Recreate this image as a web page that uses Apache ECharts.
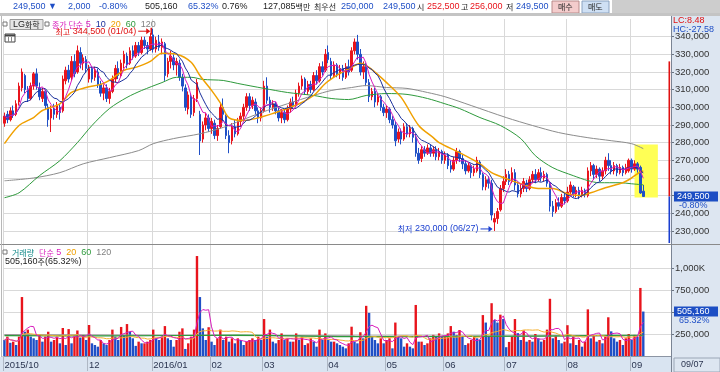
<!DOCTYPE html>
<html>
<head>
<meta charset="utf-8">
<script src="https://cdn.jsdelivr.net/npm/echarts@6/dist/echarts.min.js"></script>
<style>
html,body{margin:0;padding:0;background:#fff;}
#chart{width:720px;height:372px;}
</style>
</head>
<body>
<div id="chart"></div>
<script>
// ================= DATA =================
const monthStarts = [0, 29, 51, 71, 89, 111, 131, 151, 172, 193, 215];
const monthLabels = ['2015/10', '12', '2016/01', '02', '03', '04', '05', '06', '07', '08', '09'];
const lastDate = '09/07';

// daily candles [open, close, low, high] in thousand KRW
const candles = [
[291,295,289,297],[296,293,291,298],[293,298,292,300],[298,296,294,301],[296,302,295,304],
[303,312,301,314],[311,320,309,322],[318,310,308,319],[310,305,303,312],[305,312,304,314],
[312,319,310,320],[319,312,310,322],[311,306,304,314],[305,309,303,311],[309,301,299,310],
[300,293,289,302],[294,299,286,301],[299,296,293,302],[296,301,294,303],[300,297,293,302],
[298,316,297,318],[315,321,313,323],[321,316,314,324],[317,326,315,329],[326,319,317,330],
[320,332,319,335],[331,325,322,334],[325,328,321,330],[327,322,320,329],[316,322,314,324],
[322,316,314,323],[317,321,315,323],[320,313,311,322],[313,308,306,315],[308,311,304,313],
[311,305,303,313],[305,309,302,311],[309,316,308,318],[316,322,314,324],[322,318,316,326],
[318,325,317,327],[325,330,322,332],[329,324,322,331],[325,332,324,334],[332,329,327,335],
[329,335,328,337],[335,331,329,337],[331,338,330,340],[338,335,333,340],[335,333,330,337],
[333,340,332,342],[341,333,331,344.5],[333,338,331,340],[337,334,332,341],[334,337,330,339],
[336,318,315,337],[319,326,317,328],[326,329,322,332],[328,324,321,330],[324,326,318,328],
[325,317,315,327],[317,312,309,319],[311,300,298,313],[299,307,296,309],[306,296,294,308],
[297,305,295,307],[305,314,303,316],[296,281,273,298],[282,290,280,292],[290,294,287,297],
[294,288,286,296],[288,292,285,294],[291,284,282,293],[284,288,281,290],[289,300,288,302],
[300,296,292,305],[295,284,282,296],[284,280,274,287],[281,289,279,291],[289,285,283,293],
[285,292,284,294],[292,295,289,297],[295,300,293,302],[300,306,298,308],[306,301,298,308],
[301,304,299,306],[303,298,296,305],[298,294,291,300],[294,298,292,300],[298,312,297,315],
[312,304,302,317],[304,300,297,306],[300,302,298,304],[302,298,296,303],[298,294,292,300],
[294,297,291,299],[297,293,291,299],[293,299,292,301],[299,303,297,305],[303,301,299,306],
[301,308,300,310],[308,312,306,314],[312,316,310,318],[316,309,307,317],[309,313,307,315],
[313,310,308,315],[310,318,309,320],[318,315,313,321],[315,323,314,325],[323,320,318,326],
[321,330,320,333],[331,327,325,335],[326,318,316,328],[318,324,317,326],[324,319,317,325],
[319,322,316,324],[322,317,315,324],[317,323,316,325],[323,320,318,327],[321,332,320,334],
[332,337,330,339],[337,330,327,341],[330,320,318,333],[320,323,316,326],[323,314,312,325],
[314,306,303,316],[306,309,304,311],[309,303,300,311],[303,306,301,308],[306,300,298,307],
[300,297,295,302],[297,299,294,301],[299,293,291,300],[293,290,288,295],[290,281,278,292],
[282,286,280,288],[286,282,279,288],[282,289,281,291],[289,285,283,291],[285,288,283,290],
[288,283,280,289],[283,274,272,285],[274,270,268,277],[271,276,269,278],[276,274,272,278],
[274,277,273,279],[277,274,272,279],[274,276,272,278],[276,272,270,278],[272,275,270,277],
[275,270,268,276],[270,273,268,275],[273,267,265,274],[267,265,263,270],[265,270,264,272],
[270,275,268,277],[275,271,269,276],[271,268,265,273],[268,264,262,270],[264,267,263,269],
[267,263,260,268],[263,265,261,267],[264,270,263,272],[269,262,260,270],[262,255,253,263],
[255,259,253,261],[259,257,254,261],[257,239,236,259],[235,237,230,240],[237,241,234,243],
[242,254,241,256],[254,258,252,261],[258,262,256,265],[262,258,256,264],[258,263,257,266],
[263,256,253,265],[256,251,249,258],[251,254,249,257],[254,258,252,260],[257,254,252,259],
[254,259,253,261],[259,262,257,264],[262,259,257,265],[259,263,258,265],[263,260,258,266],
[260,262,258,264],[262,257,255,263],[257,244,241,258],[244,241,238,247],[241,246,240,248],
[246,244,242,249],[244,249,243,251],[249,247,245,252],[247,252,246,255],[252,256,250,258],
[255,251,249,256],[251,253,249,255],[253,250,248,255],[250,253,249,255],[253,251,249,254],
[250,264,249,266],[264,267,261,269],[267,262,259,268],[262,265,260,267],[265,261,258,266],
[261,264,259,266],[264,270,262,272],[270,267,264,274],[267,264,262,270],[264,267,262,269],
[267,263,261,268],[263,266,262,268],[266,263,261,267],[263,266,262,268],[264,270,263,271],
[270,265,263,271],[265,268,264,270],[268,265,263,269],[266,251.5,251,267],[252.5,249.5,249.5,256]
];

// daily volume in thousand shares
const volumes = [
182,220,150,163,125,220,670,276,300,220,
201,182,239,163,220,276,163,182,220,144,
318,125,306,144,220,290,210,239,182,352,
144,125,106,182,144,125,182,300,220,182,
330,239,363,276,201,115,163,144,144,163,
182,300,201,182,220,340,201,182,106,182,
276,314,80,144,220,300,1136,670,314,182,
327,163,125,201,300,182,220,163,201,144,
201,182,125,163,182,201,182,220,182,420,
220,300,163,144,182,257,182,201,163,163,
257,182,220,125,144,201,163,106,300,182,
257,182,163,163,144,125,106,87,144,333,
163,144,270,201,570,490,220,182,144,201,
144,182,201,87,380,220,201,106,144,106,
87,580,163,163,125,144,201,240,220,257,
220,220,257,340,276,239,295,220,125,144,
182,220,201,182,465,380,220,600,410,380,
470,420,100,160,220,420,260,182,290,163,
182,163,250,201,163,182,300,650,201,230,
182,144,163,350,144,220,125,182,106,163,
530,201,230,163,182,144,220,440,280,201,
163,182,125,201,250,182,240,220,773.36,505.16
];

// longer moving averages: [day index, value]
const ma20Points = [[0,279.4],[5,289.7],[10,294.2],[13,298.2],[19,302],[23,308.4],[28,311.2],[33,313],[36,315.2],[41,321],[45,322.6],[50,326],[54,330.6],[59,330],[64,325.5],[67,318],[71,309.6],[74,302.5],[77,294],[82,292.5],[86,293.6],[92,296.5],[97,299.3],[101,302],[106,306.7],[110,313.5],[115,319.2],[119,322.6],[122,325],[125,322.6],[131,314],[136,305.6],[142,289.7],[147,282.8],[149,280],[156,274.3],[163,268],[167,263],[172,259.6],[177,256.7],[183,254],[188,254],[193,251],[197,250],[201,251.6],[206,254.5],[212,257.3],[215,260],[218,263.5],[219,264]];
const ma60Points = [[0,248.8],[5,251.6],[12,261.3],[19,269.8],[25,280],[30,289.7],[36,299.3],[42,305.6],[47,309.5],[54,314],[59,317],[64,317],[68,315.8],[75,315.2],[80,313.5],[89,310.7],[97,308.4],[106,306.7],[112,305],[118,304.4],[124,306.7],[131,307.8],[138,307.3],[145,305],[151,302],[156,299.3],[163,294.2],[170,289.7],[177,282.3],[182,272.6],[188,265.8],[195,261.3],[200,258.5],[204,257.3],[211,257.3],[215,256.7],[219,256.1]];
const ma120Points = [[0,258.4],[10,260],[19,263],[27,268],[36,271.5],[46,275.5],[51,279.4],[58,282.3],[67,285],[75,288.6],[81,292.5],[88,297],[97,302],[106,306.7],[112,309.5],[119,311.2],[124,312.3],[131,311.2],[138,310.7],[145,308.4],[151,306],[160,301],[172,294.2],[181,289.7],[190,285.7],[200,282.8],[208,281.1],[215,279.4],[219,276.6]];
const volMa60Points = [[0,232],[40,228],[80,238],[120,220],[160,222],[200,232],[219,236]];
const volMa120Points = [[0,242],[60,236],[120,228],[180,226],[219,230]];

const highMark = { day: 51, value: 344.5, date: '01/04' };
const lowMark = { day: 168, value: 230, date: '06/27' };
const highlight = { fromDay: 216, toDay: 224, low: 249, high: 279 };
const rangeTop = 326;
const quote = { last: 249500, change: -2000, pct: -0.80, volume: 505160, volRatio: 65.32, turnover: 0.76,
  amount: '127,085', amountUnit: '백만', ask: 250000, bid: 249500, open: 252500, high: 256000, low: 249500, lc: 8.48, hc: -27.58 };

// ================= CHART =================
const RED = '#e8141c', BLUE = '#1f4fc6', DARK = '#222222';
const FONT = "'Liberation Sans','Noto Sans CJK KR',sans-serif";
const F9 = '9px ' + FONT, K8 = "8px 'Noto Sans CJK KR',sans-serif";
const fmt = n => Math.round(n).toLocaleString('en-US');

const N = candles.length, PAD = 9, TOTAL = N + PAD;
const cats = Array.from({ length: TOTAL }, (_, i) => String(i));
const closes = candles.map(c => c[1]);
function sma(arr, n) {
  return arr.map((_, i) => {
    const s = Math.max(0, i - n + 1); let t = 0;
    for (let k = s; k <= i; k++) t += arr[k];
    return +(t / (i - s + 1)).toFixed(2);
  });
}
function sparse(pts) { const a = new Array(N).fill(null); pts.forEach(p => { a[p[0]] = p[1]; }); return a; }
const isMonth = i => monthStarts.indexOf(i) >= 0;
const volColors = volumes.map((v, i) => (i > 0 && v >= volumes[i - 1]) ? RED : BLUE);

function line(data, color, width, xi, yi, smooth) {
  return { type: 'line', xAxisIndex: xi, yAxisIndex: yi, data: data, symbol: 'none', connectNulls: true,
    smooth: smooth || false, lineStyle: { color: color, width: width }, z: 3, silent: true };
}

const chart = echarts.init(document.getElementById('chart'), null, { renderer: 'canvas' });
chart.setOption({
  animation: false,
  backgroundColor: '#ffffff',
  grid: [
    { left: 3, right: 49, top: 19, height: 229.6 },
    { left: 3, right: 49, top: 246, height: 110 }
  ],
  xAxis: [
    { type: 'category', gridIndex: 0, data: cats, boundaryGap: true,
      axisLine: { show: false }, axisTick: { show: false }, axisLabel: { show: false },
      splitLine: { show: true, interval: (i) => isMonth(i), lineStyle: { color: '#d9d9d9' } } },
    { type: 'category', gridIndex: 1, data: cats, boundaryGap: true,
      axisLine: { show: true, lineStyle: { color: '#8c95a3' } },
      axisTick: { show: true, interval: (i) => isMonth(i), length: 15, lineStyle: { color: '#aeb7c4' } },
      axisLabel: { show: true, interval: (i) => isMonth(i), formatter: (v) => monthLabels[monthStarts.indexOf(+v)] || '',
        align: 'left', margin: 5, color: '#2b3550', fontSize: 9.5, fontFamily: FONT },
      splitLine: { show: true, interval: (i) => isMonth(i), lineStyle: { color: '#d9d9d9' } } }
  ],
  yAxis: [
    { type: 'value', gridIndex: 0, position: 'right', min: 220, max: 350, interval: 10,
      axisLine: { show: true, lineStyle: { color: '#6a7380' } },
      axisTick: { show: true, length: 3, lineStyle: { color: '#6a7380' } },
      axisLabel: { showMinLabel: false, showMaxLabel: false, formatter: v => fmt(v * 1000), color: '#333', fontSize: 9.5, margin: 4, fontFamily: FONT },
      splitLine: { show: true, showMinLine: false, showMaxLine: false, lineStyle: { color: '#d9d9d9' } } },
    { type: 'value', gridIndex: 1, position: 'right', min: 0, max: 1250, interval: 250,
      axisLine: { show: true, lineStyle: { color: '#6a7380' } },
      axisTick: { show: true, length: 3, lineStyle: { color: '#6a7380' } },
      axisLabel: { showMinLabel: false, showMaxLabel: false, formatter: v => v >= 1000 ? fmt(v) + 'K' : fmt(v * 1000), color: '#333', fontSize: 9.5, margin: 4, fontFamily: FONT },
      splitLine: { show: true, showMinLine: false, showMaxLine: false, lineStyle: { color: '#d9d9d9' } } }
  ],
  series: [
    { type: 'candlestick', xAxisIndex: 0, yAxisIndex: 0, data: candles, barWidth: 2, z: 2,
      itemStyle: { color: RED, color0: BLUE, borderColor: RED, borderColor0: BLUE, borderWidth: 1 },
      markArea: { silent: true, itemStyle: { color: '#ffff55' },
        data: [[{ xAxis: highlight.fromDay, yAxis: highlight.high }, { xAxis: highlight.toDay, yAxis: highlight.low }]] } },
    line(sparse(ma120Points), '#8c8c8c', 1, 0, 0, 0.3),
    line(sparse(ma60Points), '#2e9a3c', 1, 0, 0, 0.3),
    line(sparse(ma20Points), '#f0a000', 1.5, 0, 0, 0.3),
    line(sma(closes, 10), '#1a2f9c', 1, 0, 0),
    line(sma(closes, 5), '#d81cbc', 1, 0, 0),
    { type: 'bar', xAxisIndex: 1, yAxisIndex: 1, barWidth: 2.4, z: 2,
      data: volumes.map((v, i) => ({ value: v, itemStyle: { color: volColors[i] } })) },
    line(sparse(volMa120Points), '#9a9a9a', 1.2, 1, 1, 0.3),
    line(sparse(volMa60Points), '#2e9a3c', 1.2, 1, 1, 0.3),
    line(sma(volumes, 20), '#f5b030', 1, 1, 1),
    line(sma(volumes, 5), '#d81cbc', 1, 1, 1)
  ]
});

// ---------- decorations ----------
function T(text, x, y, fill, extra) {
  return { type: 'text', x: x, y: y, z: 100,
    style: Object.assign({ text: text, fill: fill, font: F9, verticalAlign: 'middle', align: 'left' }, (extra || {})) };
}
function R(x, y, w, h, fill, stroke, z) {
  return { type: 'rect', z: z === undefined ? -5 : z, shape: { x: x, y: y, width: w, height: h },
    style: { fill: fill, stroke: stroke || null, lineWidth: 1 } };
}
function L(x1, y1, x2, y2, stroke, z, w) {
  return { type: 'line', z: z === undefined ? 50 : z, shape: { x1: x1, y1: y1, x2: x2, y2: y2 }, style: { stroke: stroke, lineWidth: w || 1 } };
}
function richStyle(map) {
  const r = {};
  Object.keys(map).forEach(k => { r[k] = { fill: map[k][0], font: map[k][1] || F9 }; });
  return { rich: r };
}

const yP = chart.convertToPixel({ yAxisIndex: 0 }, quote.last / 1000);
const yV = chart.convertToPixel({ yAxisIndex: 1 }, quote.volume / 1000);
const yTop = chart.convertToPixel({ yAxisIndex: 0 }, rangeTop);
const hx = chart.convertToPixel({ xAxisIndex: 0 }, highMark.day);
const hy = chart.convertToPixel({ yAxisIndex: 0 }, highMark.value);
const lx = chart.convertToPixel({ xAxisIndex: 0 }, lowMark.day);
const ly = chart.convertToPixel({ yAxisIndex: 0 }, lowMark.value);

const g = [
  R(0, 0, 720, 14, '#ffffff'),
  R(612, 0, 108, 14, '#cdcdcd'),
  R(0, 13, 720, 3, '#c4c4c4', null, 60),
  R(672, 16, 48, 356, '#dde6f1'),
  R(0, 357, 672, 15, '#d9e4f1'),
  L(0, 244.5, 720, 244.5, '#8a8a8a'),
  L(1.5, 16, 1.5, 357, '#b8b8b8'),
  L(671.5, 16, 671.5, 372, '#7a8494'),
  // header quote
  T(fmt(quote.last) + ' ▼', 13, 7, BLUE),
  T(fmt(Math.abs(quote.change)), 68, 7, BLUE),
  T(quote.pct.toFixed(2) + '%', 99, 7, BLUE),
  T(fmt(quote.volume), 145, 7, DARK),
  T(quote.volRatio.toFixed(2) + '%', 188, 7, BLUE),
  T(quote.turnover.toFixed(2) + '%', 222, 7, DARK),
  T('{n|' + quote.amount + '}{k|' + quote.amountUnit + '}', 263, 7, DARK, richStyle({ n: [DARK], k: [DARK, K8] })),
  T('최우선', 314, 7, DARK, { font: K8 }),
  T(fmt(quote.ask), 341, 7, BLUE),
  T(fmt(quote.bid), 383, 7, BLUE),
  T('시', 417, 7, DARK, { font: K8 }), T(fmt(quote.open), 427, 7, RED),
  T('고', 461, 7, DARK, { font: K8 }), T(fmt(quote.high), 470, 7, RED),
  T('저', 506, 7, DARK, { font: K8 }), T(fmt(quote.low), 516, 7, BLUE),
  R(552, 1, 27, 12, '#f4cccc', '#b88a8a', 50), T('매수', 558, 7, DARK, { font: K8 }),
  R(582, 1, 27, 12, '#cfe0f4', '#8aa2c0', 50), T('매도', 588, 7, DARK, { font: K8 }),
  // price legend
  R(3, 22, 4, 4, '#ffffff', '#777777', 50),
  R(10, 19.5, 33, 10, '#e6e6e6', '#9a9a9a', 50),
  T('{a|LG}{b|화학}', 13, 24.5, DARK, richStyle({ a: [DARK], b: [DARK, K8] })),
  R(45, 22, 4, 4, '#ffffff', '#777777', 50),
  T('{a|종가 단순} {f|5}  {b|10}  {c|20}  {d|60}  {e|120}', 52, 24.5, '#d81cbc', richStyle({
    a: ['#d81cbc', K8], f: ['#d81cbc'], b: ['#1a2f9c'], c: ['#f0a000'], d: ['#2e9a3c'], e: ['#808080'] })),
  R(5, 34, 10, 8, '#ffffff', '#444444', 50),
  L(5, 35.5, 15, 35.5, '#444444', 51, 2),
  L(8.5, 37, 8.5, 42, '#888888', 51), L(11.5, 37, 11.5, 42, '#888888', 51),
  // high / low marks
  T('{k|최고} {n|' + fmt(highMark.value * 1000) + ' (' + highMark.date + ')}', hx - 17, hy + 3, '#e01010',
    Object.assign({ align: 'right' }, richStyle({ k: ['#e01010', K8], n: ['#e01010'] }))),
  L(hx - 15, hy + 2.5, hx - 4, hy + 2.5, '#e01010', 60),
  { type: 'polygon', z: 60, shape: { points: [[hx - 7, hy - 0.5], [hx - 3, hy + 2.5], [hx - 7, hy + 5.5]] }, style: { fill: '#e01010' } },
  L(hx - 2, hy - 1, hx - 2, hy + 6, '#e01010', 60, 1.5),
  T('{k|최저} {n|' + fmt(lowMark.value * 1000) + ' (' + lowMark.date + ')}', lx - 16, ly - 2, '#1a3fd0',
    Object.assign({ align: 'right' }, richStyle({ k: ['#1a3fd0', K8], n: ['#1a3fd0'] }))),
  L(lx - 14, ly - 2, lx - 3, ly - 2, '#1a3fd0', 60),
  { type: 'polygon', z: 60, shape: { points: [[lx - 6, ly - 5], [lx - 2, ly - 2], [lx - 6, ly + 1]] }, style: { fill: '#1a3fd0' } },
  // volume legend
  R(3, 250, 4, 4, '#ffffff', '#777777', 50),
  T('{a|거래량}  {b|단순} {f|5}  {c|20}  {d|60}  {e|120}', 12, 252.5, '#108888', richStyle({
    a: ['#108888', K8], b: ['#d81cbc', K8], f: ['#d81cbc'], c: ['#f0a000'], d: ['#2e9a3c'], e: ['#808080'] })),
  T('{n|' + fmt(quote.volume) + '}{k|주}{n|(' + quote.volRatio.toFixed(2) + '%)}', 5, 262, DARK, richStyle({ n: [DARK], k: [DARK, K8] })),
  // right panel
  T('LC:' + quote.lc.toFixed(2), 673, 20.5, '#e01010'),
  T('HC:' + quote.hc.toFixed(2), 673, 29.5, BLUE),
  R(668.5, yTop, 1.6, yP - yTop, '#e01010', null, 40),
  R(668.5, yP, 1.6, 243 - yP, '#1a3fd0', null, 40),
  R(674, yP - 5, 44, 10, '#1c4ec4', null, 90), T(fmt(quote.last), 677, yP, '#ffffff'),
  T(quote.pct.toFixed(2) + '%', 679, yP + 9, BLUE),
  R(674, yV - 5, 44, 10, '#1c4ec4', null, 90), T(fmt(quote.volume), 677, yV, '#ffffff'),
  T(quote.volRatio.toFixed(2) + '%', 679, yV + 9, BLUE),
  R(674, 358, 46, 14, '#dde6f1', '#9aa6b6', 50), T(lastDate, 681, 365, '#2b3550')
];
chart.setOption({ graphic: g });
</script>
</body>
</html>
